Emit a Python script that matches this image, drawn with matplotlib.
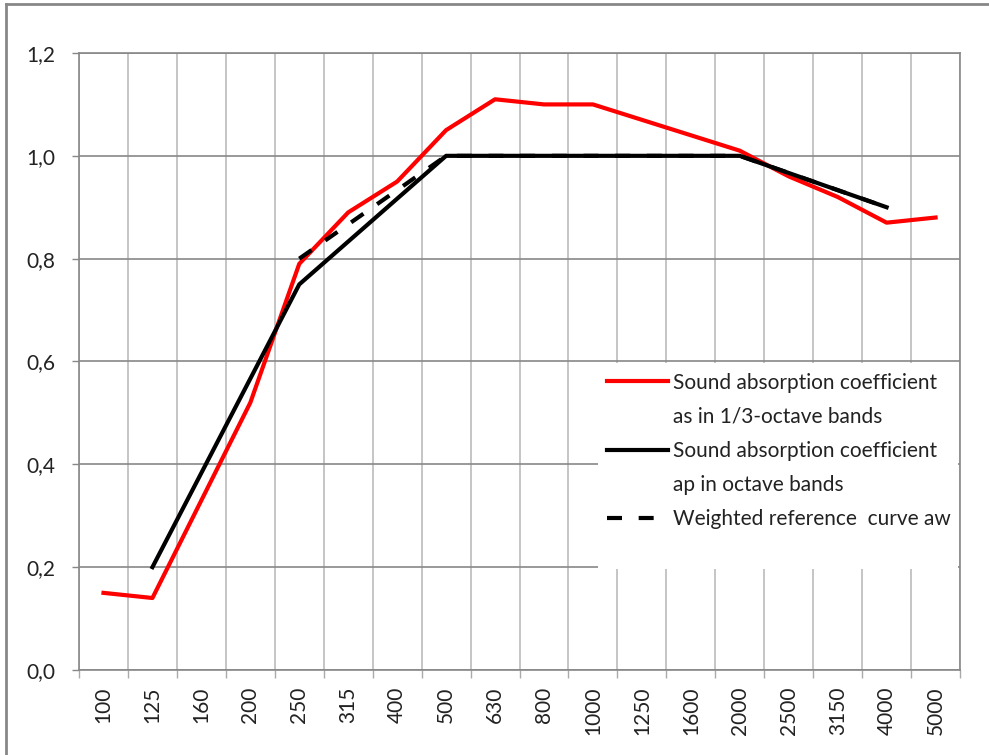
import numpy as np
import matplotlib.pyplot as plt
from matplotlib.patches import Rectangle
from matplotlib.lines import Line2D

plt.rcParams['font.family'] = ['Lato', 'DejaVu Sans']

# 1/3-octave band centre frequencies (Hz)
freqs = ['100', '125', '160', '200', '250', '315', '400', '500', '630',
         '800', '1000', '1250', '1600', '2000', '2500', '3150', '4000', '5000']
# sound absorption coefficient in 1/3-octave bands
alpha_s = [0.15, 0.14, 0.33, 0.52, 0.79, 0.89, 0.95, 1.05, 1.11,
           1.10, 1.10, 1.07, 1.04, 1.01, 0.96, 0.92, 0.87, 0.88]
# practical coefficient in octave bands
oct_bands = ['125', '250', '500', '1000', '2000', '4000']
alpha_p = [0.20, 0.75, 1.00, 1.00, 1.00, 0.90]
# shifted reference curve
ref_bands = ['250', '500', '1000', '2000', '4000']
alpha_ref = [0.80, 1.00, 1.00, 1.00, 0.90]

labels = [('Sound absorption coefficient', 'as in 1/3-octave bands'),
          ('Sound absorption coefficient', 'ap in octave bands'),
          ('Weighted reference  curve aw',)]

x_s = np.arange(len(freqs)) + 0.5
x_p = np.array([freqs.index(b) for b in oct_bands]) + 0.5
x_ref = np.array([freqs.index(b) for b in ref_bands]) + 0.5

fig = plt.figure(figsize=(9.89, 7.55), dpi=100)
ax = fig.add_axes([0.0799, 0.1126, 0.8908, 0.8172])

lw = 3.0
l1, = ax.plot(x_s, alpha_s, color='#ff0000', lw=lw, zorder=3)
l2, = ax.plot(x_p, alpha_p, color='black', lw=lw, zorder=3)
l3, = ax.plot(x_ref, alpha_ref, color='black', lw=lw, ls=(0, (3.6, 4.0)),
              zorder=3)

ax.set_xlim(0, len(freqs))
ax.set_ylim(0, 1.2)

# y axis
yt = np.arange(0, 1.21, 0.2)
ax.set_yticks(yt)
ax.set_yticklabels([f'{v:.1f}'.replace('.', ',') for v in yt])
ax.tick_params(axis='y', length=5, width=1, color='#888888', pad=12,
               labelsize=15, labelcolor='#222222')
ax.yaxis.grid(True, color='#888888', lw=1.2, zorder=0)

# x axis: boundaries as major ticks, labels in the middle
ax.set_xticks(np.arange(len(freqs) + 1))
ax.set_xticklabels([])
ax.set_xticks(x_s, minor=True)
ax.set_xticklabels(freqs, minor=True, rotation=90)
ax.tick_params(axis='x', which='major', length=6, width=1, color='#aaaaaa')
ax.tick_params(axis='x', which='minor', length=0, pad=12, labelsize=15,
               labelcolor='#222222')
ax.xaxis.grid(True, which='major', color='#bbbbbb', lw=1.2, zorder=0)
ax.set_axisbelow(True)

for s in ax.spines.values():
    s.set_color('#888888')
    s.set_linewidth(1.2)

# legend area (handle sits on the first text line, as in Excel)
ax.add_patch(Rectangle((0.589, 0.163), 0.409, 0.335, transform=ax.transAxes,
                       facecolor='white', edgecolor='none', zorder=2.2))
blank = Line2D([], [], color='none')
handles, texts = [], []
for h, lab in zip([l1, l2, l3], labels):
    for i, line in enumerate(lab):
        handles.append(h if i == 0 else blank)
        texts.append(line)
leg = ax.legend(handles, texts, loc='upper left',
                bbox_to_anchor=(0.599, 0.482), frameon=False, fontsize=15,
                handlelength=2.95, handletextpad=0.25, labelspacing=0.68,
                borderpad=0, borderaxespad=0)
leg.set_zorder(4)
for t in leg.get_texts():
    t.set_color('#222222')

# outer chart frame
fig.add_artist(Line2D([0.006, 1.0], [0.9947, 0.9947], color='#888888', lw=2))
fig.add_artist(Line2D([0.006, 0.006], [0.0, 0.9947], color='#888888', lw=2))

fig.savefig('out.png', dpi=100)
